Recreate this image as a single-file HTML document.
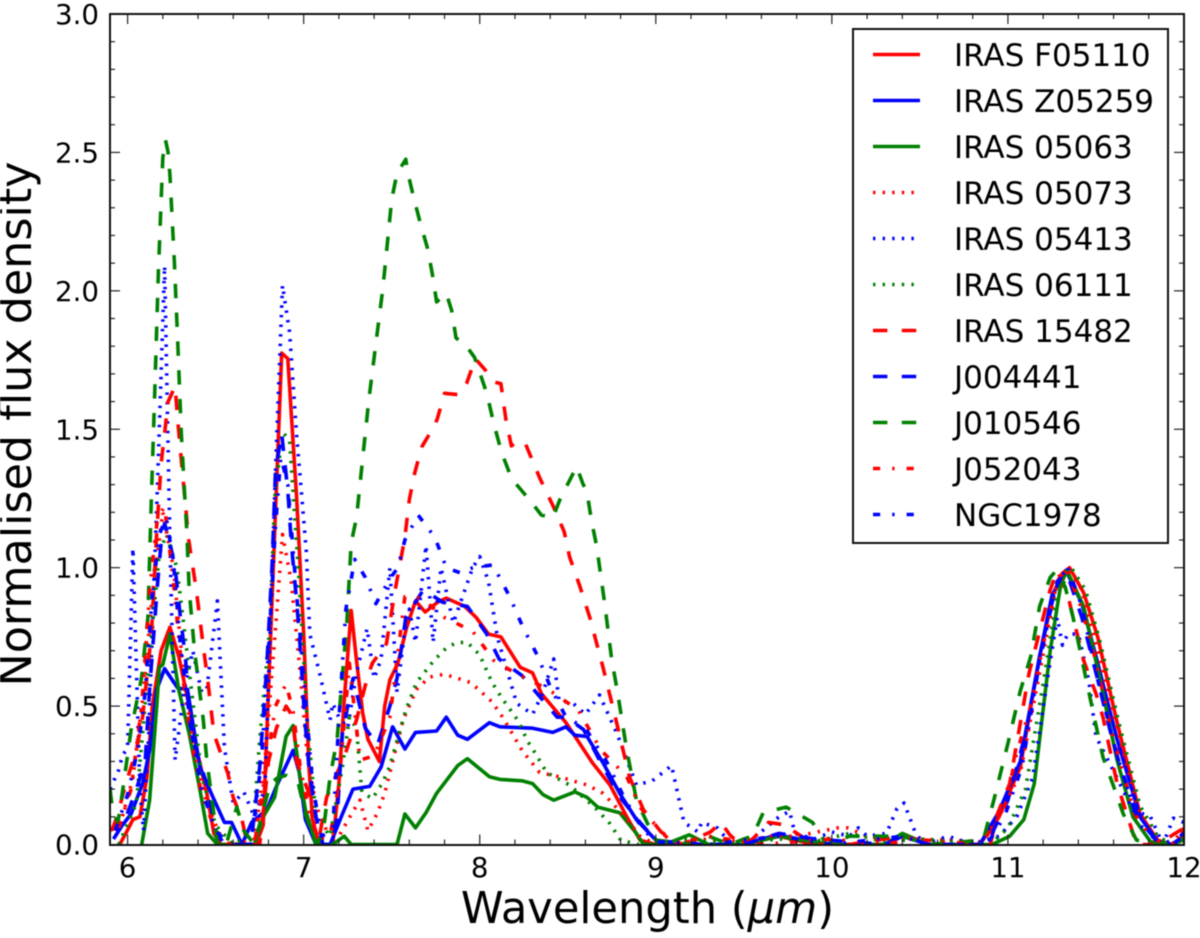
<!DOCTYPE html>
<html>
<head>
<meta charset="utf-8">
<title>Normalised flux density spectra</title>
<style>
html,body{margin:0;padding:0;background:#fff;}
svg{display:block;filter:blur(0.55px);}
text{font-family:"DejaVu Sans","Liberation Sans",sans-serif;fill:#000;}
</style>
</head>
<body>
<svg id="chart" width="1200" height="938" viewBox="0 0 1200 938" xmlns="http://www.w3.org/2000/svg">
<defs><clipPath id="plot-clip"><rect x="110" y="14" width="1074" height="831"></rect></clipPath></defs>
<rect x="0" y="0" width="1200" height="938" fill="#fff"></rect>
<g id="series-layer" clip-path="url(#plot-clip)"></g>
<g id="tick-layer"></g>
<rect x="110" y="14" width="1074" height="831" fill="none" stroke="#111" stroke-width="2"></rect>
<g id="legend-layer"></g>
<text x="647.5" y="923" font-size="43.2" text-anchor="middle">Wavelength (<tspan font-style="italic">μm</tspan>)</text>
<text transform="translate(31 424) rotate(-90)" font-size="44.4" text-anchor="middle">Normalised flux density</text>
</svg>
<script>
const xTicks = [6, 7, 8, 9, 10, 11, 12];
const xTickLabels = ["6", "7", "8", "9", "10", "11", "12"];
const yTicks = [0, 0.5, 1, 1.5, 2, 2.5, 3];
const yTickLabels = ["0.0", "0.5", "1.0", "1.5", "2.0", "2.5", "3.0"];
const seriesNames = ["IRAS F05110", "IRAS Z05259", "IRAS 05063", "IRAS 05073", "IRAS 05413", "IRAS 06111", "IRAS 15482", "J004441", "J010546", "J052043", "NGC1978"];

const wlF05110 = [5.955,5.99,6.03,6.07,6.11,6.14,6.19,6.24,6.29,6.35,6.39,6.45,6.49,6.53,6.73,6.77,6.875,6.91,6.96,7.0,7.03,7.05,7.09,7.165,7.2,7.23,7.27,7.3,7.335,7.365,7.43,7.46,7.49,7.535,7.585,7.635,7.69,7.76,7.81,7.915,7.98,8.05,8.12,8.23,8.3,8.35,8.49,8.64,8.74,8.835,8.91,9.0,9.5,9.7,9.9,10.3,10.4,10.55,10.84,10.95,11.07,11.18,11.26,11.31,11.35,11.43,11.51,11.62,11.75,11.85,11.93,12];
const fluxF05110 = [0,0.04,0.09,0.1,0.245,0.5,0.7,0.785,0.68,0.5,0.35,0.185,0.04,0,0,0.07,1.775,1.755,1.255,0.76,0.28,0.09,0,0,0.22,0.52,0.845,0.665,0.475,0.38,0.3,0.5,0.595,0.655,0.785,0.88,0.84,0.875,0.89,0.86,0.82,0.76,0.75,0.64,0.62,0.545,0.44,0.295,0.215,0.1,0.016,0,0,0.03,0,0,0.03,0,0,0.1,0.28,0.68,0.91,0.98,1,0.91,0.75,0.44,0.11,0.016,0,0.03];

const wlZ05259 = [5.94,6.02,6.085,6.125,6.165,6.21,6.285,6.34,6.41,6.485,6.55,6.59,6.65,6.705,6.79,6.845,6.94,6.975,7.01,7.07,7.15,7.22,7.28,7.375,7.44,7.505,7.575,7.635,7.755,7.81,7.875,7.93,8.055,8.115,8.3,8.415,8.49,8.54,8.61,8.7,8.795,8.89,9.0,9.1,9.5,9.69,9.85,10.0,10.3,10.4,10.55,10.84,10.95,11.07,11.18,11.25,11.33,11.42,11.5,11.62,11.75,11.85,11.93,12];
const fluxZ05259 = [0.045,0.11,0.22,0.34,0.56,0.635,0.565,0.56,0.28,0.17,0.08,0.08,0,0.08,0.125,0.21,0.34,0.26,0.09,0,0,0.11,0.2,0.21,0.28,0.425,0.345,0.405,0.41,0.46,0.395,0.38,0.44,0.425,0.42,0.405,0.425,0.395,0.39,0.295,0.185,0.09,0.016,0,0,0.035,0.015,0,0,0.03,0,0,0.12,0.3,0.68,0.9,0.99,0.87,0.68,0.38,0.1,0.01,0,0.02];

const wl05063 = [6.08,6.125,6.165,6.18,6.2,6.24,6.29,6.35,6.41,6.455,6.51,6.72,6.77,6.835,6.9,6.94,6.975,7.01,7.07,7.165,7.23,7.27,7.53,7.575,7.635,7.695,7.755,7.875,7.93,8.055,8.115,8.24,8.3,8.36,8.42,8.54,8.61,8.67,8.795,8.89,8.93,9.05,9.19,9.3,9.5,9.7,9.85,10.0,10.3,10.4,10.55,10.91,11.01,11.09,11.15,11.24,11.3,11.335,11.43,11.52,11.62,11.71,11.81,11.92,12];
const flux05063 = [0,0.16,0.5,0.64,0.65,0.76,0.56,0.4,0.2,0.04,0,0,0.1,0.17,0.39,0.43,0.26,0.125,0,0,0.03,0,0,0.11,0.06,0.115,0.185,0.285,0.31,0.245,0.235,0.23,0.22,0.18,0.16,0.19,0.17,0.135,0.115,0.04,0,0,0.035,0,0,0.03,0.015,0,0,0.04,0,0,0.03,0.09,0.22,0.7,0.94,0.99,0.86,0.605,0.305,0.1,0.01,0,0.016];

const wl05073 = [5.9,5.97,6.03,6.09,6.14,6.2,6.26,6.32,6.38,6.45,6.52,6.62,6.72,6.78,6.84,6.88,6.93,6.98,7.02,7.07,7.13,7.2,7.28,7.32,7.365,7.42,7.46,7.565,7.64,7.715,7.8,7.95,8.07,8.135,8.24,8.34,8.45,8.61,8.7,8.81,8.91,9.0,9.3,9.5,9.65,9.8,10.03,10.09,10.2,10.35,10.45,10.7,10.85,10.95,11.07,11.18,11.27,11.34,11.42,11.5,11.62,11.74,11.85,11.93,12];
const flux05073 = [0.05,0.1,0.24,0.55,0.9,1.2,1.0,0.6,0.33,0.15,0.04,0,0.02,0.3,0.78,1.12,0.95,0.62,0.32,0.14,0.05,0.03,0.12,0.16,0.05,0.115,0.185,0.45,0.56,0.605,0.615,0.585,0.515,0.455,0.34,0.26,0.245,0.215,0.185,0.11,0.03,0,0.02,0.01,0.03,0.03,0.06,0.06,0.03,0.015,0.02,0.015,0.01,0.1,0.26,0.62,0.92,1,0.92,0.72,0.42,0.13,0.03,0,0.06];

const wl05413 = [5.9,5.95,5.97,6.0,6.03,6.07,6.09,6.12,6.17,6.21,6.24,6.27,6.32,6.37,6.42,6.45,6.51,6.55,6.6,6.66,6.72,6.78,6.84,6.88,6.92,6.96,7.015,7.035,7.09,7.15,7.165,7.2,7.25,7.3,7.36,7.4,7.44,7.49,7.53,7.57,7.6,7.635,7.695,7.735,7.78,7.85,7.96,8.0,8.05,8.1,8.21,8.3,8.36,8.42,8.45,8.53,8.6,8.68,8.78,8.89,8.98,9.09,9.16,9.24,9.26,9.35,9.43,9.55,9.7,9.76,9.79,9.9,10.0,10.1,10.15,10.2,10.31,10.37,10.41,10.47,10.52,10.66,10.8,10.95,11.05,11.14,11.22,11.28,11.31,11.34,11.4,11.46,11.5,11.62,11.71,11.81,11.88,11.94,12];
const flux05413 = [0.2,0.27,0.32,0.35,1.07,0.2,0.05,0.4,1.3,2.09,1.1,0.305,0.55,0.7,0.55,0.56,0.88,0.35,0.15,0.19,0.1,0.2,1.35,2.02,1.85,1.48,1.06,0.76,0.62,0.45,0.51,0.46,0.42,0.62,0.78,0.6,0.67,1.0,0.55,0.75,0.85,0.73,1.08,0.73,1.0,0.8,1.0,1.04,0.95,0.75,0.51,0.47,0.55,0.67,0.52,0.51,0.47,0.54,0.4,0.215,0.23,0.285,0.08,0.045,0.08,0.06,0,0.02,0.1,0.12,0.04,0.02,0.045,0.03,0.06,0.03,0.04,0.13,0.15,0.05,0,0.03,0,0.03,0.1,0.24,0.58,0.82,0.72,0.76,0.76,0.59,0.39,0.24,0.125,0.1,0,0.095,0.08];

const wl06111 = [5.95,6.05,6.12,6.18,6.22,6.28,6.34,6.42,6.5,6.6,6.71,6.75,6.81,6.835,6.88,6.92,6.975,7.02,7.07,7.15,7.22,7.26,7.3,7.33,7.39,7.45,7.49,7.58,7.64,7.74,7.81,7.87,7.93,8.0,8.07,8.125,8.22,8.27,8.32,8.38,8.51,8.66,8.74,8.8,8.9,9.2,9.4,9.7,9.9,10.1,10.3,10.5,10.9,11.0,11.1,11.2,11.28,11.36,11.44,11.52,11.63,11.75,11.85,11.93,12];
const flux06111 = [0,0.15,0.65,1.05,1.12,1.0,0.68,0.25,0.07,0,0.04,0.38,0.8,1.25,1.49,1.46,0.94,0.45,0.1,0.03,0.28,0.46,0.42,0.19,0.165,0.225,0.285,0.485,0.585,0.665,0.71,0.73,0.73,0.685,0.585,0.53,0.445,0.375,0.325,0.26,0.215,0.13,0.075,0.016,0,0.02,0,0.02,0.01,0.04,0.01,0.02,0,0.06,0.2,0.58,0.9,1,0.92,0.74,0.44,0.14,0.03,0,0.03];

const wl15482 = [5.91,5.94,5.99,6.05,6.085,6.135,6.165,6.19,6.21,6.23,6.27,6.285,6.3,6.33,6.345,6.39,6.43,6.455,6.49,6.57,6.6,6.65,6.68,6.75,6.8,6.845,6.9,6.94,6.96,7.03,7.05,7.09,7.13,7.18,7.23,7.3,7.36,7.39,7.47,7.52,7.575,7.6,7.63,7.67,7.745,7.76,7.8,7.875,7.925,7.975,8.03,8.085,8.12,8.15,8.18,8.2,8.255,8.34,8.415,8.48,8.51,8.57,8.625,8.7,8.77,8.85,8.93,9.03,9.15,9.31,9.37,9.42,9.48,9.55,9.64,9.74,9.79,9.9,10.1,10.4,10.6,10.9,10.94,11.01,11.12,11.24,11.28,11.34,11.43,11.5,11.54,11.62,11.73,11.85,11.95,12];
const flux15482 = [0.05,0.1,0.22,0.34,0.46,0.76,1.125,1.375,1.485,1.6,1.655,1.53,1.425,1.22,1.11,0.92,0.715,0.595,0.4,0.255,0.17,0.09,0,0,0.3,0.42,0.5,0.46,0.3,0.185,0.09,0.03,0.17,0.245,0.315,0.45,0.6,0.655,0.725,0.92,1.11,1.245,1.34,1.435,1.515,1.54,1.63,1.625,1.665,1.755,1.715,1.67,1.665,1.53,1.44,1.45,1.455,1.325,1.225,1.13,1.04,0.93,0.82,0.64,0.46,0.245,0.125,0.045,0,0.045,0.08,0.035,0,0.02,0.08,0.07,0.045,0,0,0.03,0,0,0.11,0.22,0.62,0.92,0.99,0.9,0.665,0.545,0.46,0.22,0,0,0.04,0.06];

const wlJ004441 = [5.92,5.98,6.05,6.1,6.125,6.17,6.19,6.21,6.24,6.27,6.295,6.33,6.35,6.39,6.45,6.5,6.55,6.7,6.75,6.79,6.82,6.84,6.875,6.89,6.91,6.93,6.96,6.975,7.005,7.03,7.07,7.11,7.165,7.19,7.22,7.28,7.35,7.42,7.49,7.53,7.58,7.68,7.79,7.93,8.04,8.11,8.24,8.34,8.44,8.49,8.59,8.7,8.81,8.91,9.0,9.2,9.5,9.7,9.9,10.3,10.4,10.55,10.88,11.0,11.1,11.2,11.28,11.33,11.42,11.5,11.6,11.73,11.85,11.93,12];
const fluxJ004441 = [0.02,0.08,0.2,0.3,0.56,0.94,1.09,1.16,1.09,1.0,0.85,0.665,0.45,0.33,0.22,0.05,0,0,0.28,0.64,1.0,1.35,1.485,1.395,1.28,1.09,0.88,0.76,0.46,0.28,0.1,0,0,0.1,0.4,0.6,0.42,0.36,0.5,0.6,0.82,0.92,0.875,0.86,0.76,0.67,0.61,0.535,0.46,0.46,0.415,0.28,0.16,0.08,0.016,0,0,0.04,0.02,0,0.03,0,0,0.16,0.4,0.74,0.95,0.99,0.82,0.62,0.36,0.1,0.01,0,0.03];

const wlJ010546 = [5.9,5.915,5.945,5.97,6.02,6.08,6.115,6.135,6.155,6.175,6.2,6.215,6.23,6.24,6.265,6.285,6.305,6.325,6.335,6.35,6.38,6.43,6.45,6.485,6.51,6.56,6.62,6.66,6.72,6.81,6.85,6.9,6.97,7.01,7.07,7.11,7.15,7.19,7.245,7.27,7.3,7.335,7.37,7.41,7.45,7.5,7.53,7.555,7.58,7.59,7.62,7.66,7.705,7.735,7.755,7.81,7.84,7.865,7.925,7.97,8.04,8.08,8.125,8.17,8.19,8.295,8.35,8.415,8.455,8.55,8.585,8.61,8.635,8.665,8.71,8.75,8.78,8.805,8.835,8.865,8.89,8.95,9.0,9.2,9.3,9.42,9.5,9.55,9.61,9.74,9.89,9.97,10.1,10.4,10.55,10.86,10.92,11.0,11.07,11.13,11.18,11.24,11.275,11.325,11.37,11.43,11.49,11.54,11.6,11.655,11.73,11.85,12];
const fluxJ010546 = [0.2,0.125,0.08,0.185,0.415,0.605,0.82,1.255,1.65,2.07,2.48,2.545,2.5,2.42,2.11,1.81,1.485,1.255,1.145,0.92,0.7,0.45,0.305,0.135,0,0,0.135,0.05,0,0.22,0.24,0.25,0.22,0.11,0,0.04,0.245,0.38,0.8,1.09,1.18,1.395,1.605,1.81,2.01,2.33,2.425,2.45,2.475,2.43,2.35,2.25,2.15,2.045,1.96,1.99,1.93,1.83,1.8,1.76,1.63,1.52,1.415,1.34,1.315,1.235,1.19,1.18,1.245,1.365,1.305,1.27,1.17,1.075,0.87,0.665,0.56,0.46,0.34,0.245,0.16,0.08,0.016,0,0.03,0,0.02,0.03,0.115,0.135,0.08,0,0.03,0.03,0,0.016,0.16,0.365,0.555,0.68,0.86,0.965,0.99,0.93,0.82,0.64,0.46,0.315,0.21,0.11,0.016,0,0.02];

const wlJ052043 = [5.95,6.02,6.08,6.13,6.17,6.21,6.26,6.31,6.36,6.42,6.5,6.58,6.72,6.78,6.84,6.9,6.94,6.98,7.03,7.08,7.15,7.2,7.26,7.32,7.4,7.49,7.575,7.67,7.8,7.96,8.08,8.2,8.39,8.56,8.69,8.835,8.91,8.97,9.1,9.3,9.6,10.0,10.3,10.45,10.85,10.98,11.05,11.13,11.2,11.28,11.33,11.42,11.5,11.6,11.72,11.82,11.93,12];
const fluxJ052043 = [0.06,0.2,0.5,0.95,1.18,1.22,0.95,0.62,0.38,0.18,0.05,0,0,0.25,0.5,0.58,0.48,0.28,0.12,0.02,0.03,0.22,0.655,0.305,0.32,0.46,0.895,0.89,0.82,0.77,0.665,0.62,0.56,0.485,0.34,0.245,0.135,0.09,0,0.03,0,0.02,0,0.02,0,0.13,0.33,0.5,0.72,0.95,1,0.85,0.66,0.38,0.11,0.02,0,0.05];

const wlNGC1978 = [5.93,6.0,6.06,6.1,6.14,6.18,6.22,6.26,6.3,6.36,6.42,6.5,6.58,6.7,6.76,6.8,6.84,6.87,6.91,6.95,7.0,7.05,7.1,7.165,7.2,7.24,7.29,7.35,7.41,7.49,7.535,7.575,7.65,7.745,7.81,7.895,7.96,8.075,8.17,8.245,8.33,8.4,8.49,8.6,8.72,8.82,8.92,9.0,9.3,9.7,10.0,10.4,10.55,10.88,10.98,11.08,11.18,11.26,11.31,11.34,11.42,11.5,11.62,11.75,11.87,11.95,12];
const fluxNGC1978 = [0.05,0.18,0.35,0.55,0.9,1.12,1.18,1.02,0.72,0.42,0.2,0.05,0,0,0.3,0.7,1.15,1.4,1.3,0.98,0.6,0.22,0.03,0.05,0.45,0.85,1.03,0.965,0.87,0.96,1.0,1.1,1.19,1.11,1.0,0.98,1.0,1.01,0.895,0.785,0.68,0.57,0.46,0.42,0.3,0.17,0.06,0.01,0,0.03,0,0.03,0,0,0.1,0.28,0.66,0.9,0.98,1,0.86,0.62,0.32,0.07,0,0.02,0.04];

const xDomain = [5.9, 12];
const yDomain = [0, 3];
const plotLeft = 110, plotRight = 1184, plotTop = 14, plotBottom = 844.5;
const SVG_NS = "http://www.w3.org/2000/svg";

function xScale(w) { return plotLeft + (w - xDomain[0]) * (plotRight - plotLeft) / (xDomain[1] - xDomain[0]); }
function yScale(v) { return plotBottom - (v - yDomain[0]) * (plotBottom - plotTop) / (yDomain[1] - yDomain[0]); }

const RED = "#ff0000", BLUE = "#0000ff", GREEN = "#008000";
const SOLID = "", DOTTED = "2.4 7.2", DASHED = "14.4 14.4", DASHDOT = "7.2 12 2.4 12";
const seriesWavelengths = [wlF05110, wlZ05259, wl05063, wl05073, wl05413, wl06111, wl15482, wlJ004441, wlJ010546, wlJ052043, wlNGC1978];
const seriesFluxes = [fluxF05110, fluxZ05259, flux05063, flux05073, flux05413, flux06111, flux15482, fluxJ004441, fluxJ010546, fluxJ052043, fluxNGC1978];
const seriesColors = [RED, BLUE, GREEN, RED, BLUE, GREEN, RED, BLUE, GREEN, RED, BLUE];
const seriesDashes = [SOLID, SOLID, SOLID, DOTTED, DOTTED, DOTTED, DASHED, DASHED, DASHED, DASHDOT, DASHDOT];

const seriesLayer = document.getElementById("series-layer");
const tickLayer = document.getElementById("tick-layer");
const legendLayer = document.getElementById("legend-layer");

function slug(s) { return s.toLowerCase().replace(/\s+/g, "-"); }

seriesNames.forEach(function (name, i) {
  const p = document.createElementNS(SVG_NS, "path");
  
  
  let d = "";
  seriesWavelengths[i].forEach(function (w, k) {
    d += (k ? "L" : "M") + xScale(w).toFixed(1) + " " + yScale(seriesFluxes[i][k]).toFixed(1);
  });
  p.setAttribute("d", d);
  p.setAttribute("fill", "none");
  p.setAttribute("stroke", seriesColors[i]);
  p.setAttribute("stroke-width", "3.6");
  p.setAttribute("stroke-linejoin", "round");
  if (seriesDashes[i]) p.setAttribute("stroke-dasharray", seriesDashes[i]);
  seriesLayer.appendChild(p);
});

function tick(x1, y1, x2, y2) {
  const t = document.createElementNS(SVG_NS, "line");
  
  
  t.setAttribute("x1", x1); t.setAttribute("y1", y1);
  t.setAttribute("x2", x2); t.setAttribute("y2", y2);
  t.setAttribute("stroke", "#222");
  t.setAttribute("stroke-width", "1.2");
  tickLayer.appendChild(t);
}

for (let m = 60; m <= 120; m += 2) {
  const w = m / 10;
  const len = m % 10 === 0 ? 10 : 5;
  tick(xScale(w), plotBottom, xScale(w), plotBottom - len);
  tick(xScale(w), plotTop, xScale(w), plotTop + len);
}
for (let m = 0; m <= 30; m += 1) {
  const v = m / 10;
  const len = m % 5 === 0 ? 10 : 5;
  tick(plotLeft, yScale(v), plotLeft + len, yScale(v));
  tick(plotRight, yScale(v), plotRight - len, yScale(v));
}

xTicks.forEach(function (w, i) {
  const t = document.createElementNS(SVG_NS, "text");
  
  
  t.setAttribute("x", xScale(w));
  t.setAttribute("y", 877);
  t.setAttribute("font-size", "27.7");
  t.setAttribute("text-anchor", "middle");
  t.textContent = xTickLabels[i];
  tickLayer.appendChild(t);
});
yTicks.forEach(function (v, i) {
  const t = document.createElementNS(SVG_NS, "text");
  
  
  t.setAttribute("x", 99);
  t.setAttribute("y", yScale(v) + 10);
  t.setAttribute("font-size", "27.7");
  t.setAttribute("text-anchor", "end");
  t.textContent = yTickLabels[i];
  tickLayer.appendChild(t);
});

const box = document.createElementNS(SVG_NS, "rect");


box.setAttribute("x", 853);
box.setAttribute("y", 29);
box.setAttribute("width", 315);
box.setAttribute("height", 514);
box.setAttribute("fill", "#fff");
box.setAttribute("stroke", "#111");
box.setAttribute("stroke-width", "2");
legendLayer.appendChild(box);

seriesNames.forEach(function (name, i) {
  const rowY = 54.5 + i * 46;
  const g = document.createElementNS(SVG_NS, "g");
  
  
  const l = document.createElementNS(SVG_NS, "line");
  
  
  l.setAttribute("x1", 873); l.setAttribute("x2", 920);
  l.setAttribute("y1", rowY); l.setAttribute("y2", rowY);
  l.setAttribute("stroke", seriesColors[i]);
  l.setAttribute("stroke-width", "3.6");
  if (seriesDashes[i]) l.setAttribute("stroke-dasharray", seriesDashes[i]);
  g.appendChild(l);
  const t = document.createElementNS(SVG_NS, "text");
  
  
  t.setAttribute("x", 954);
  t.setAttribute("y", rowY + 11.5);
  t.setAttribute("font-size", "31");
  t.textContent = name;
  g.appendChild(t);
  legendLayer.appendChild(g);
});
</script>
</body>
</html>
